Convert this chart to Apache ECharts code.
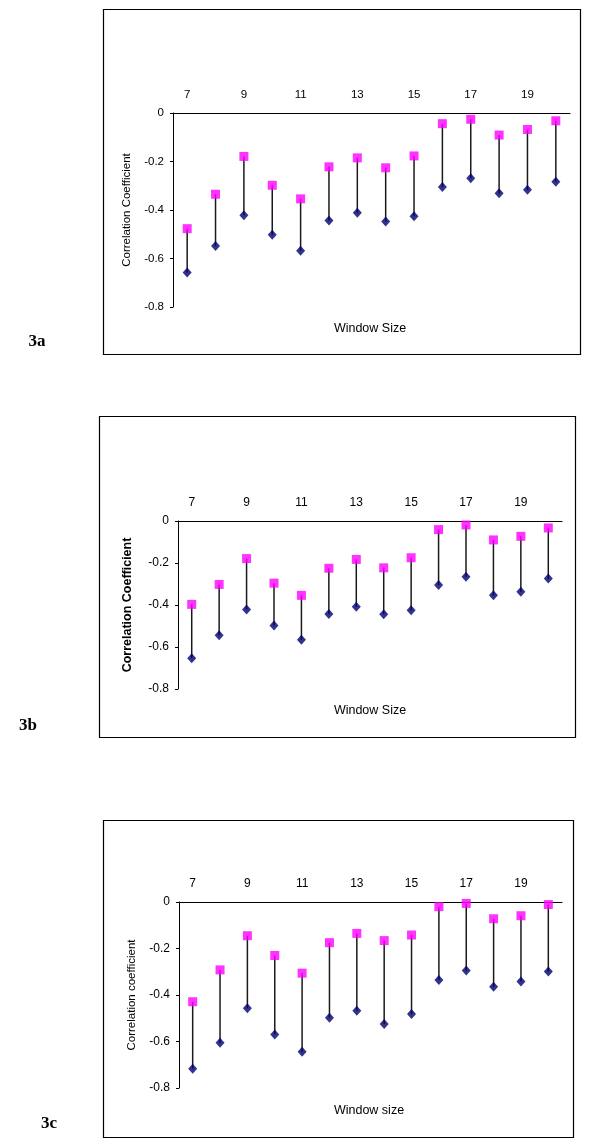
<!DOCTYPE html>
<html>
<head>
<meta charset="utf-8">
<script src="https://cdn.jsdelivr.net/npm/echarts@6/dist/echarts.min.js"></script>
<style>
html,body{margin:0;padding:0;background:#fff;}
#chart{width:600px;height:1147px;}
</style>
</head>
<body>
<div id="chart"></div>
<script>
// Window sizes (categories)
const windowSizes = ['7','8','9','10','11','12','13','14','15','16','17','18','19','20'];

// Panel 3a
const upperA = [-0.477,-0.335,-0.179,-0.298,-0.354,-0.222,-0.185,-0.226,-0.177,-0.044,-0.026,-0.091,-0.068,-0.032];
const lowerA = [-0.658,-0.548,-0.422,-0.502,-0.568,-0.443,-0.411,-0.447,-0.426,-0.305,-0.269,-0.331,-0.317,-0.283];

// Panel 3b
const upperB = [-0.397,-0.302,-0.179,-0.296,-0.354,-0.225,-0.183,-0.223,-0.175,-0.041,-0.019,-0.090,-0.073,-0.033];
const lowerB = [-0.653,-0.544,-0.421,-0.498,-0.566,-0.443,-0.408,-0.444,-0.425,-0.305,-0.266,-0.354,-0.337,-0.274];

// Panel 3c
const upperC = [-0.429,-0.292,-0.145,-0.230,-0.306,-0.175,-0.135,-0.166,-0.142,-0.020,-0.006,-0.072,-0.059,-0.011];
const lowerC = [-0.717,-0.605,-0.457,-0.570,-0.644,-0.498,-0.468,-0.525,-0.482,-0.336,-0.295,-0.365,-0.342,-0.299];

// Y-axis ticks
const yMin = -0.8, yMax = 0, yStep = 0.2;

const panels = [
  {upper: upperA, lower: lowerA, yName: 'Correlation Coefficient', xName: 'Window Size', tag: '3a',
   grid: {left: 173, top: 113, width: 397, height: 194}, nameGap: 37, nameBold: false, fs: 11.5,
   box: [103, 9, 477, 345], xNamePos: [370, 329], tagPos: [37, 342]},
  {upper: upperB, lower: lowerB, yName: 'Correlation Coefficient', xName: 'Window Size', tag: '3b',
   grid: {left: 178, top: 521, width: 384, height: 168}, nameGap: 44, nameBold: true, fs: 12,
   box: [99, 416, 476, 321], xNamePos: [370, 711], tagPos: [28, 726]},
  {upper: upperC, lower: lowerC, yName: 'Correlation coefficient', xName: 'Window size', tag: '3c',
   grid: {left: 179, top: 902, width: 383, height: 186}, nameGap: 41, nameBold: false, fs: 12,
   box: [103, 820, 470, 317], xNamePos: [369, 1111], tagPos: [49, 1124]}
];

const FONT = 'Liberation Sans, Arial, sans-serif';
const grids = [], xAxes = [], yAxes = [], series = [], graphics = [];

panels.forEach((p, i) => {
  grids.push(Object.assign({containLabel: false}, p.grid));
  xAxes.push({
    type: 'category', gridIndex: i, data: windowSizes, position: 'top', boundaryGap: true,
    axisLine: {lineStyle: {color: '#000', width: 1}},
    axisTick: {show: false},
    axisLabel: {interval: 1, margin: 12, color: '#000', fontSize: p.fs, fontFamily: FONT},
    splitLine: {show: false}
  });
  yAxes.push({
    type: 'value', gridIndex: i, min: yMin, max: yMax, interval: yStep,
    name: p.yName, nameLocation: 'middle', nameGap: p.nameGap, nameRotate: 90,
    nameTextStyle: {color: '#000', fontSize: p.nameBold ? 12.5 : 11.5, fontWeight: p.nameBold ? 'bold' : 'normal', fontFamily: FONT},
    axisLine: {show: true, lineStyle: {color: '#000', width: 1}},
    axisTick: {show: true, inside: false, length: 3, lineStyle: {color: '#000'}},
    axisLabel: {color: '#000', fontSize: p.fs, fontFamily: FONT, margin: 9,
      formatter: v => (Math.abs(v) < 1e-9 ? '0' : String(Math.round(v * 10) / 10))},
    splitLine: {show: false}
  });
  series.push({
    type: 'custom', xAxisIndex: i, yAxisIndex: i, z: 1,
    data: windowSizes.map((c, k) => [k, p.upper[k], p.lower[k]]),
    renderItem: (params, api) => {
      const a = api.coord([api.value(0), api.value(1)]);
      const b = api.coord([api.value(0), api.value(2)]);
      return {type: 'line', shape: {x1: a[0], y1: a[1], x2: b[0], y2: b[1]},
              style: {stroke: '#1a1a1a', lineWidth: 1.5}};
    }
  });
  series.push({
    type: 'scatter', xAxisIndex: i, yAxisIndex: i, z: 3,
    data: p.lower, symbol: 'diamond', symbolSize: [9, 10],
    itemStyle: {color: '#000070'}
  });
  series.push({
    type: 'scatter', xAxisIndex: i, yAxisIndex: i, z: 4,
    data: p.upper, symbol: 'rect', symbolSize: 9,
    itemStyle: {color: '#FF00FF'}
  });
  graphics.push({
    type: 'rect', shape: {x: p.box[0] + 0.5, y: p.box[1] + 0.5, width: p.box[2], height: p.box[3]},
    style: {fill: 'none', stroke: '#000', lineWidth: 1.2}, z: 0
  });
  graphics.push({
    type: 'text', x: p.xNamePos[0], y: p.xNamePos[1],
    style: {text: p.xName, fill: '#000', font: '12.5px ' + FONT, align: 'center', verticalAlign: 'middle'}
  });
  graphics.push({
    type: 'text', x: p.tagPos[0], y: p.tagPos[1],
    style: {text: p.tag, fill: '#000', font: 'bold 17px "Liberation Serif", "Times New Roman", serif', align: 'center', verticalAlign: 'middle'}
  });
});

const chart = echarts.init(document.getElementById('chart'), null, {renderer: 'canvas'});
chart.setOption({
  animation: false,
  backgroundColor: '#fff',
  grid: grids,
  xAxis: xAxes,
  yAxis: yAxes,
  series: series,
  graphic: graphics
});
</script>
</body>
</html>
